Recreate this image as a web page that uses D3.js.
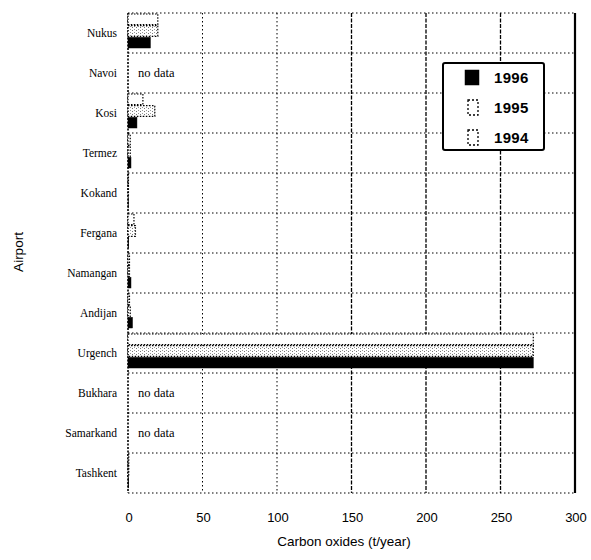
<!DOCTYPE html>
<html><head><meta charset="utf-8">
<script src="https://cdn.jsdelivr.net/npm/d3@7"></script>
<style>body{margin:0;background:#fff;}svg{display:block;}</style>
</head><body>
<svg id="c" width="591" height="560"></svg>
<script>
const airports = ["Nukus","Navoi","Kosi","Termez","Kokand","Fergana","Namangan","Andijan","Urgench","Bukhara","Samarkand","Tashkent"];
const years = ["1994","1995","1996"];
const values1994 = [20, null, 10, 1.5, 0.3, 4, 1, 1, 272, null, null, 0.5];
const values1995 = [20, null, 18, 1.5, 0.3, 5, 1, 1.5, 272, null, null, 0.5];
const values1996 = [15, null, 6, 2, 0.3, 0.5, 2, 3, 272, null, null, 0.5];
const xTicks = [0, 50, 100, 150, 200, 250, 300];
const legendYears = ["1996","1995","1994"];
const noDataLabel = "no data";

const svg = d3.select("#c");
const L = 128, R = 575, T = 13, B = 493;
const x = d3.scaleLinear().domain([0, 300]).range([L, R]);
const y = d3.scaleBand().domain(airports).range([T, B]);
const inner = d3.scaleBand().domain(years).range([0, 35]);

const defs = svg.append("defs");
const pat = defs.append("pattern").attr("id","stip").attr("patternUnits","userSpaceOnUse").attr("width",4).attr("height",3);
pat.append("rect").attr("width",4).attr("height",3).attr("fill","#fff");
pat.append("rect").attr("x",0).attr("y",0).attr("width",1).attr("height",1).attr("fill","#777");
pat.append("rect").attr("x",2).attr("y",2).attr("width",1).attr("height",1).attr("fill","#999");

// gridlines
const dash = "1.5,2.5";
svg.append("g").selectAll("line.v").data(xTicks.slice(1, -1)).join("line")
  .attr("x1", d => x(d)).attr("x2", d => x(d)).attr("y1", T).attr("y2", B)
  .attr("stroke", "#000").attr("stroke-width", d => d >= 150 ? 1.3 : 1).attr("stroke-dasharray", d => d >= 150 ? "4,1.5" : dash);
svg.append("g").selectAll("line.h").data(airports.slice(1)).join("line")
  .attr("x1", L).attr("x2", R).attr("y1", d => y(d)).attr("y2", d => y(d))
  .attr("stroke", "#000").attr("stroke-width", 1).attr("stroke-dasharray", dash);
// frame
svg.append("line").attr("x1",L).attr("x2",R).attr("y1",T).attr("y2",T).attr("stroke","#000").attr("stroke-dasharray",dash).attr("stroke-width",1.2);
svg.append("line").attr("x1",L).attr("x2",R).attr("y1",B).attr("y2",B).attr("stroke","#000").attr("stroke-dasharray",dash).attr("stroke-width",1.2);
svg.append("line").attr("x1",L).attr("x2",L).attr("y1",T).attr("y2",B).attr("stroke","#000").attr("stroke-dasharray","2,1.5").attr("stroke-width",1.6);
svg.append("line").attr("x1",R).attr("x2",R).attr("y1",T).attr("y2",B).attr("stroke","#000").attr("stroke-width",2.2);

// bars
const series = [
  {year:"1994", vals: values1994, fill:"#fff"},
  {year:"1995", vals: values1995, fill:"url(#stip)"},
  {year:"1996", vals: values1996, fill:"#000"}
];
series.forEach(s => {
  const data = airports.map((a, i) => ({a, v: s.vals[i]})).filter(d => d.v !== null);
  svg.append("g").selectAll("rect").data(data).join("rect")
    .attr("x", x(0)).attr("y", d => y(d.a) + inner(s.year) + 1)
    .attr("width", d => Math.max(0, x(d.v) - x(0)))
    .attr("height", inner.bandwidth() - 1)
    .attr("fill", s.fill)
    .attr("stroke", "#000")
    .attr("stroke-width", s.year === "1996" ? 0.5 : 1.2)
    .attr("stroke-dasharray", s.year === "1996" ? null : "1.5,1.5");
});

// no data labels
const noData = airports.filter((a, i) => values1996[i] === null);
svg.append("g").selectAll("text").data(noData).join("text")
  .attr("x", 138).attr("y", d => y(d) + y.bandwidth()/2 + 4)
  .attr("font-family", "Liberation Serif, serif").attr("font-size", 12.5)
  .text(noDataLabel);

// y labels
svg.append("g").selectAll("text").data(airports).join("text")
  .attr("x", 117).attr("y", d => y(d) + y.bandwidth()/2 + 4)
  .attr("text-anchor", "end").attr("font-family", "Liberation Serif, serif")
  .attr("font-size", 11.5).attr("fill", "#000")
  .text(d => d);

// x ticks
svg.append("g").selectAll("text").data(xTicks).join("text")
  .attr("x", d => x(d) + 1).attr("y", 522).attr("text-anchor", "middle")
  .attr("font-family", "Liberation Sans, Arial, sans-serif").attr("font-size", 13)
  .text(d => d);

svg.append("text").attr("x", 344).attr("y", 546).attr("text-anchor","middle")
  .attr("font-family", "Liberation Sans, Arial, sans-serif").attr("font-size", 13.5)
  .text("Carbon oxides (t/year)");
svg.append("text").attr("transform","translate(23,252) rotate(-90)").attr("text-anchor","middle")
  .attr("font-family", "Liberation Sans, Arial, sans-serif").attr("font-size", 13.5)
  .text("Airport");

// legend
const lg = svg.append("g").attr("transform","translate(443,63)");
lg.append("rect").attr("width",101).attr("height",87).attr("fill","#fff").attr("stroke","#000").attr("stroke-width",2).attr("rx",2);
const ly = d3.scalePoint().domain(legendYears).range([15, 75]);
legendYears.forEach(yr => {
  const g = lg.append("g").attr("transform", `translate(0,${ly(yr)})`);
  g.append("rect").attr("x",yr === "1996" ? 22 : 25).attr("y",-8).attr("width",yr === "1996" ? 14 : 10).attr("height",15)
    .attr("fill", yr === "1996" ? "#000" : "#fff").attr("stroke","#000")
    .attr("stroke-width", yr === "1996" ? 0.5 : 1.3)
    .attr("stroke-dasharray", yr === "1996" ? null : "2,2");
  g.append("text").attr("x",51).attr("y",5).attr("font-family","Liberation Sans, Arial, sans-serif")
    .attr("font-size",15).attr("font-weight","bold").attr("letter-spacing",0.3).text(yr);
});
</script>
</body></html>
